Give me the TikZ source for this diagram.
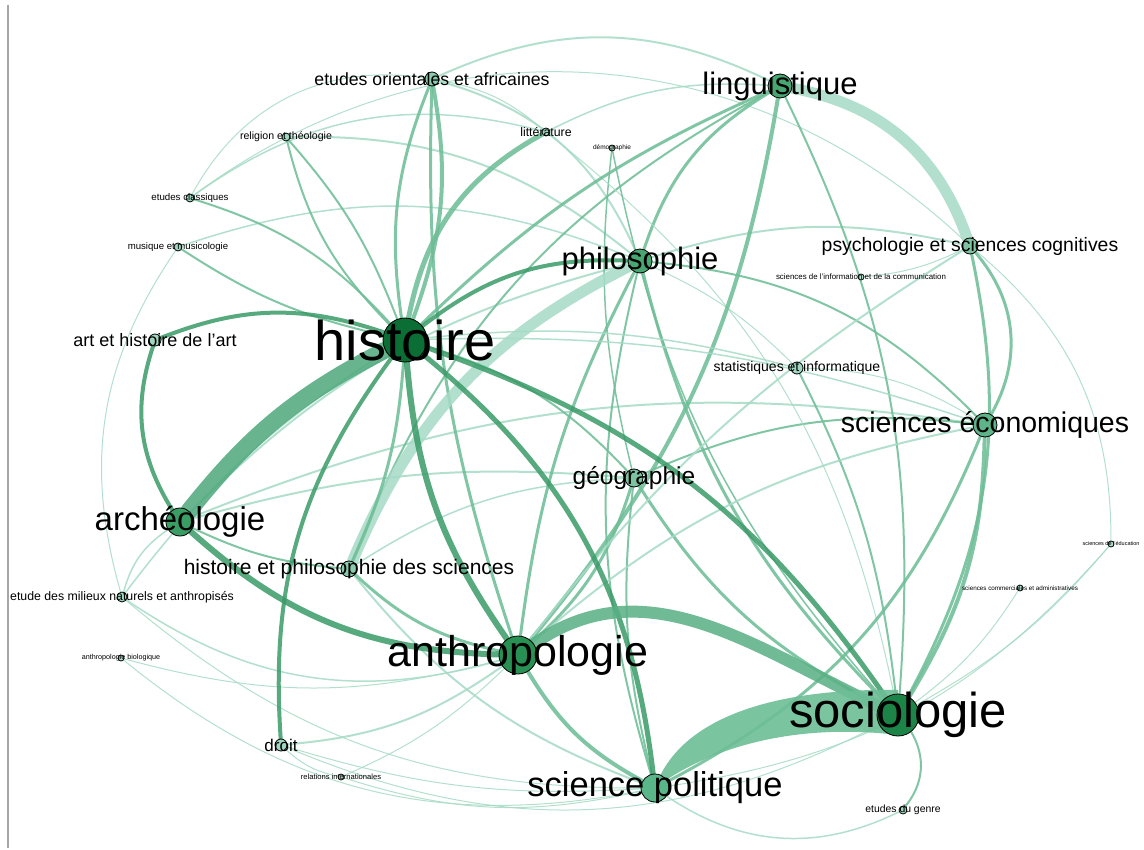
\documentclass[tikz,border=0pt]{standalone}
\usepackage{fontspec}
\setmainfont{Liberation Sans}
\usetikzlibrary{backgrounds}
\definecolor{dk}{HTML}{3A9A68}
\definecolor{md}{HTML}{6CBD95}
\definecolor{lt}{HTML}{A6DBC6}
\definecolor{band}{HTML}{4DA87B}
\definecolor{bandb}{RGB}{88,176,132}
\definecolor{bandc}{RGB}{109,190,150}
\definecolor{n1}{RGB}{11,110,53}
\definecolor{n2}{RGB}{29,132,71}
\definecolor{n3}{RGB}{40,144,82}
\definecolor{n4}{RGB}{88,182,137}
\definecolor{n5}{RGB}{58,158,100}
\definecolor{n6}{RGB}{72,166,112}
\definecolor{n7}{RGB}{93,180,137}
\definecolor{n8}{RGB}{125,195,160}
\definecolor{n9}{RGB}{138,203,174}
\definecolor{n10}{RGB}{160,215,192}
\definecolor{n11}{RGB}{180,225,205}
\newcommand\fsz[1]{\fontsize{#1}{#1}\selectfont}
\tikzset{
  vtx/.style={circle, draw=black, line width=0.8pt, inner sep=0pt, minimum size=#1},
  lbl/.style={inner sep=0pt, text=black},
  ed/.style={line cap=round, draw opacity=0.85},
}
\begin{document}
\begin{tikzpicture}[x=1pt,y=1pt]
\useasboundingbox (0,0) rectangle (1144,-850);
\draw[gray!70, line width=2pt] (8,-5) -- (8,-848);
% vertices
\node[vtx=44pt, fill=n1] (h) at (405,-340) {};
\node[vtx=42pt, fill=n2] (soc) at (898,-715) {};
\node[vtx=38pt, fill=n3] (an) at (518,-655) {};
\node[vtx=28pt, fill=n4] (sp) at (655,-788) {};
\node[vtx=28pt, fill=n5] (ar) at (180,-522) {};
\node[vtx=24pt, fill=n6] (ph) at (640,-261) {};
\node[vtx=24pt, fill=n6] (li) at (780,-86) {};
\node[vtx=24pt, fill=n7] (se) at (985,-425) {};
\node[vtx=18pt, fill=n8] (ge) at (634,-478) {};
\node[vtx=16pt, fill=n8] (ps) at (970,-246) {};
\node[vtx=16pt, fill=n9] (hps) at (349,-569) {};
\node[vtx=14pt, fill=n9] (eo) at (432,-79) {};
\node[vtx=12pt, fill=n10] (ah) at (155,-340) {};
\node[vtx=12pt, fill=n10] (st) at (797,-368) {};
\node[vtx=12pt, fill=n10] (dr) at (281,-745) {};
\node[vtx=10pt, fill=n10] (em) at (122,-597) {};
\node[vtx=8pt, fill=n10] (re) at (286,-137) {};
\node[vtx=8pt, fill=n10] (lit) at (546,-132) {};
\node[vtx=8pt, fill=n10] (ec) at (190,-198) {};
\node[vtx=8pt, fill=n10] (mu) at (178,-247) {};
\node[vtx=6pt, fill=n11] (de) at (612,-148) {};
\node[vtx=6pt, fill=n11] (si) at (861,-277) {};
\node[vtx=6pt, fill=n11] (sed) at (1111,-544) {};
\node[vtx=6pt, fill=n11] (sc) at (1020,-588) {};
\node[vtx=6pt, fill=n11] (ab) at (121,-658) {};
\node[vtx=6pt, fill=n11] (ri) at (341,-777) {};
\node[vtx=8pt, fill=n10] (eg) at (903,-810) {};
% edges
\begin{scope}[on background layer]
\fill[white] (0,0) rectangle (1144,-850);
\draw[ed, lt, line width=1pt] (ec) to[bend left=40] (ps);
\draw[ed, lt, line width=1pt] (eo) to[bend right=35] (ec);
\draw[ed, lt, line width=1pt] (mu) to[bend right=25] (em);
\draw[ed, lt, line width=1pt] (ab) to[bend right=25] (sp);
\draw[ed, lt, line width=1pt] (em) to[bend right=20] (sp);
\draw[ed, lt, line width=1pt] (dr) to[bend right=25] (soc);
\draw[ed, lt, line width=1pt] (sed) to[bend left=20] (sp);
\draw[ed, lt, line width=1pt] (ps) to[bend left=25] (sed);
\draw[ed, lt, line width=1pt] (soc) to[bend right=10] (sed);
\draw[ed, lt, line width=1pt] (soc) to[bend right=10] (sc);
\draw[ed, lt, line width=1.5pt] (sp) to[bend right=30] (eg);
\draw[ed, lt, line width=1pt] (dr) to[bend right=15] (ri);
\draw[ed, lt, line width=1pt] (sp) to[bend left=15] (ri);
\draw[ed, lt, line width=1pt] (sp) to[bend left=10] (dr);
\draw[ed, lt, line width=1pt] (an) to[bend left=10] (ri);
\draw[ed, lt, line width=1pt] (an) to[bend left=15] (ab);
\draw[ed, lt, line width=1.5pt] (em) to[bend right=25] (an);
\draw[ed, lt, line width=1.5pt] (ar) to[bend right=20] (em);
\draw[ed, lt, line width=2pt] (ar) to[bend left=10] (ge);
\draw[ed, lt, line width=2pt] (ar) to[bend left=15] (se);
\draw[ed, lt, line width=2pt] (ar) to[bend left=15] (ph);
\draw[ed, md, line width=2pt] (ar) to[bend right=10] (hps);
\draw[ed, lt, line width=2pt] (re) to[bend left=20] (ph);
\draw[ed, lt, line width=1.5pt] (mu) to[bend left=20] (ph);
\draw[ed, lt, line width=1.5pt] (ec) to[bend left=25] (lit);
\draw[ed, lt, line width=1pt] (eo) to[bend left=15] (lit);
\draw[ed, lt, line width=2pt] (eo) to[bend left=25] (ph);
\draw[ed, lt, line width=2pt] (hps) to[bend right=15] (sp);
\draw[ed, lt, line width=1.5pt] (hps) to[bend left=15] (ge);
\draw[ed, lt, line width=2pt] (li) to[bend right=25] (eo);
\draw[ed, md, line width=2pt] (li) to[bend right=20] (hps);
\draw[ed, lt, line width=1.5pt] (li) to[bend right=15] (lit);
\draw[ed, md, line width=3pt] (li) to[bend right=20] (ph);
\draw[ed, md, line width=3pt] (ps) to[bend left=35] (se);
\draw[ed, lt, line width=2pt] (ps) to[bend right=15] (ph);
\draw[ed, lt, line width=1pt] (ps) to[bend left=10] (si);
\draw[ed, md, line width=2pt] (ph) to[bend left=20] (se);
\draw[ed, lt, line width=1pt] (ph) to[bend left=10] (st);
\draw[ed, md, line width=2pt] (ge) to[bend left=15] (se);
\draw[ed, lt, line width=1pt] (st) to[bend left=15] (se);
\draw[ed, md, line width=1.5pt] (de) to[bend right=10] (ge);
\draw[ed, lt, line width=1pt] (lit) to[bend left=20] (soc);
\draw[ed, md, line width=3pt] (sp) to[bend right=20] (se);
\draw[ed, md, line width=2pt] (sp) to[bend left=10] (ge);
\draw[ed, md, line width=2pt] (sp) to[bend left=15] (ph);
\draw[ed, md, line width=4pt] (soc) to[bend right=15] (se);
\draw[ed, md, line width=3pt] (soc) to[bend right=20] (ps);
\draw[ed, md, line width=2pt] (soc) to[bend right=15] (li);
\draw[ed, md, line width=3pt] (soc) to[bend left=15] (ph);
\draw[ed, md, line width=3pt] (soc) to[bend left=15] (ge);
\draw[ed, md, line width=2pt] (soc) to[bend right=10] (st);
\draw[ed, md, line width=2pt] (soc) to[bend left=35] (eg);
\draw[ed, md, line width=1.5pt] (soc) to[bend left=15] (de);
\draw[ed, md, line width=4pt] (an) to[bend right=15] (sp);
\draw[ed, md, line width=3pt] (an) to[bend left=10] (ph);
\draw[ed, md, line width=4pt] (an) to[bend right=15] (li);
\draw[ed, md, line width=3pt] (an) to[bend right=15] (ge);
\draw[ed, md, line width=3pt] (an) to[bend left=15] (hps);
\draw[ed, lt, line width=2pt] (an) to[bend left=15] (dr);
\draw[ed, lt, line width=2pt] (an) to[bend left=10] (ps);
\draw[ed, md, line width=3pt] (eo) to[bend right=10] (an);
\draw[ed, lt, line width=2pt] (an) to[bend left=15] (se);
\draw[ed, lt, line width=11pt] (ph) to[bend right=20] (hps);
\draw[ed, lt, line width=11pt] (li) to[bend left=30] (ps);
\draw[ed, md, line width=2pt] (re) to[bend left=10] (h);
\draw[ed, md, line width=2pt] (re) to[bend right=15] (h);
\draw[ed, md, line width=2pt] (ec) to[bend left=15] (h);
\draw[ed, md, line width=2pt] (mu) to[bend right=10] (h);
\draw[ed, md, line width=2pt] (h) to[bend left=15] (ge);
\draw[ed, lt, line width=1.5pt] (h) to[bend left=10] (st);
\draw[ed, lt, line width=1.5pt] (h) to[bend left=10] (se);
\draw[ed, md, line width=3pt] (h) to[bend left=10] (hps);
\draw[ed, lt, line width=1.5pt] (h) to[bend right=10] (em);
\draw[ed, md, line width=3pt] (h) to[bend left=10] (li);
\draw[ed, md, line width=4pt] (eo) to[bend left=15] (h);
\draw[ed, md, line width=3pt] (eo) to[bend right=15] (h);
\draw[ed, md, line width=5pt] (h) to[bend left=25] (lit);
\draw[ed, dk, line width=4pt] (dr) to[bend left=20] (h);
\draw[ed, dk, line width=4pt] (ar) to[bend left=25] (ah);
\draw[ed, dk, line width=4pt] (ah) to[bend left=20] (h);
\draw[ed, dk, line width=4pt] (h) to[bend left=20] (ph);
\draw[ed, dk, line width=6pt] (ar) to[bend right=20] (an);
\draw[ed, dk, line width=5pt] (h) to[bend left=22] (sp);
\draw[ed, dk, line width=6pt] (h) to[bend right=15] (an);
\draw[ed, dk, line width=5pt] (h) to[bend left=18] (soc);
\draw[ed, bandb, line width=12pt] (an) to[out=35, in=155] (soc);
\draw[ed, band, line width=17pt] (h) to[bend right=12] (ar);
\fill[bandc, fill opacity=0.9] (sp.center) .. controls (680,-715) and (780,-688) .. ([yshift=25pt]soc.center)
  -- ([yshift=-20pt]soc.center) .. controls (790,-722) and (705,-750) .. (sp.center) -- cycle;
\end{scope}
% labels
\node[lbl, font=\fsz{56}] (h-t) at (h) {histoire};
\node[lbl, font=\fsz{49}] (soc-t) at (soc) {sociologie};
\node[lbl, font=\fsz{43}] (an-t) at (an) {anthropologie};
\node[lbl, font=\fsz{34.5}] (sp-t) at (sp) {science politique};
\node[lbl, font=\fsz{33}] (ar-t) at (ar) {archéologie};
\node[lbl, font=\fsz{31}] (ph-t) at (ph) {philosophie};
\node[lbl, font=\fsz{31}] (li-t) at (li) {linguistique};
\node[lbl, font=\fsz{28.5}] (se-t) at (se) {sciences économiques};
\node[lbl, font=\fsz{24.5}] (ge-t) at (ge) {géographie};
\node[lbl, font=\fsz{19.4}] (ps-t) at (ps) {psychologie et sciences cognitives};
\node[lbl, font=\fsz{21}] (hps-t) at (hps) {histoire et philosophie des sciences};
\node[lbl, font=\fsz{17.7}] (eo-t) at (eo) {etudes orientales et africaines};
\node[lbl, font=\fsz{18}] (ah-t) at (ah) {art et histoire de l'art};
\node[lbl, font=\fsz{14}] (st-t) at (st) {statistiques et informatique};
\node[lbl, font=\fsz{17}] (dr-t) at (dr) {droit};
\node[lbl, font=\fsz{12.3}] (em-t) at (em) {etude des milieux naturels et anthropisés};
\node[lbl, font=\fsz{10.6}] (re-t) at (re) {religion et théologie};
\node[lbl, font=\fsz{12.3}] (lit-t) at (lit) {littérature};
\node[lbl, font=\fsz{9.7}] (ec-t) at (ec) {etudes classiques};
\node[lbl, font=\fsz{9.6}] (mu-t) at (mu) {musique et musicologie};
\node[lbl, font=\fsz{6.5}] (de-t) at (de) {démographie};
\node[lbl, font=\fsz{7.9}] (si-t) at (si) {sciences de l'information et de la communication};
\node[lbl, font=\fsz{5.5}] (sed-t) at (sed) {sciences de l'éducation};
\node[lbl, font=\fsz{6.3}] (sc-t) at (sc) {sciences commerciales et administratives};
\node[lbl, font=\fsz{7.2}] (ab-t) at (ab) {anthropologie biologique};
\node[lbl, font=\fsz{7.6}] (ri-t) at (ri) {relations internationales};
\node[lbl, font=\fsz{10.4}] (eg-t) at (eg) {etudes du genre};
\end{tikzpicture}
\end{document}
